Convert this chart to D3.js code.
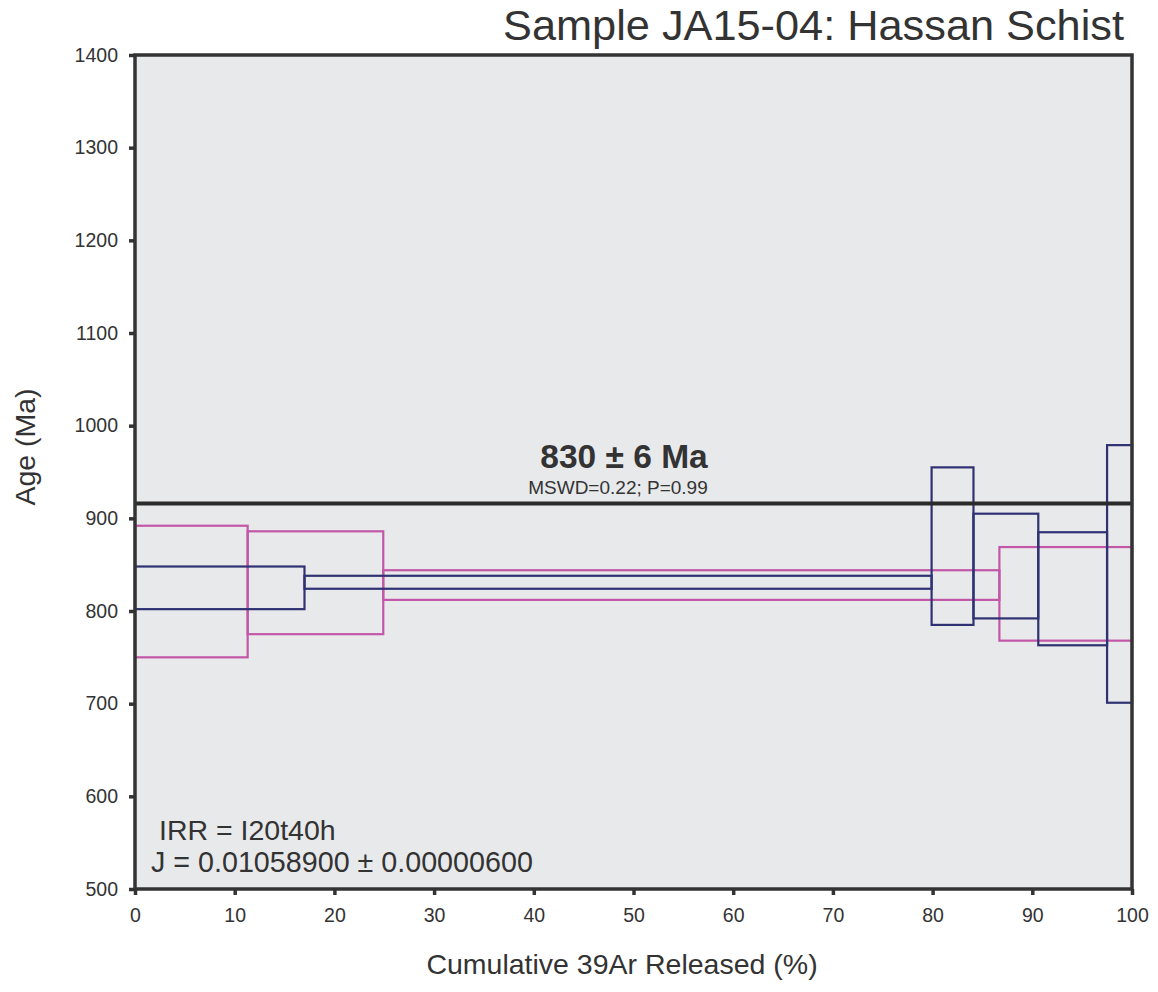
<!DOCTYPE html>
<html>
<head>
<meta charset="utf-8">
<script src="https://cdn.jsdelivr.net/npm/d3@7"></script>
<style>
  body { margin: 0; background: #fff; }
  text { font-family: "Liberation Sans", Arial, Helvetica, sans-serif; fill: #333; }
</style>
</head>
<body>
<svg id="chart" width="1158" height="992"></svg>
<script>
// step heating data (cumulative % boundaries, age +/- envelope in Ma)
const blueCum = [0, 17.0, 79.9, 84.1, 90.6, 97.5, 100];
const blueHigh = [848, 838, 955, 905, 885, 979];
const blueLow = [802, 824, 785, 792, 763, 701];

const pinkCum = [0, 11.3, 24.9, 86.7, 100];
const pinkHigh = [892, 886, 844, 869];
const pinkLow = [750, 775, 812, 768];

const plateauLine = 916;
const xTicks = [0, 10, 20, 30, 40, 50, 60, 70, 80, 90, 100];
const yTicks = [500, 600, 700, 800, 900, 1000, 1100, 1200, 1300, 1400];

const title = "Sample JA15-04: Hassan Schist";
const plateauText = "830 ± 6 Ma";
const mswdText = "MSWD=0.22; P=0.99";
const irrText = "IRR = I20t40h";
const jText = "J = 0.01058900 ± 0.00000600";

const svg = d3.select("#chart");
const plot = {left: 135, right: 1132, top: 55, bottom: 889};

const x = d3.scaleLinear().domain([0, 100]).range([plot.left, plot.right]);
const y = d3.scaleLinear().domain([500, 1400]).range([plot.bottom, plot.top]);

//plot background
svg.append("rect")
    .attr("x", plot.left).attr("y", plot.top)
    .attr("width", plot.right - plot.left).attr("height", plot.bottom - plot.top)
    .attr("fill", "#e8e9eb");

//turn the arrays into boxes
function steps(cum, hi, lo){
    return hi.map((h, i) => ({x0: cum[i], x1: cum[i+1], hi: h, lo: lo[i]}));
}

function drawSteps(data, color){
    svg.append("g")
        .selectAll("rect")
        .data(data)
        .join("rect")
            .attr("x", d => x(d.x0))
            .attr("y", d => y(d.hi))
            .attr("width", d => x(d.x1) - x(d.x0))
            .attr("height", d => y(d.lo) - y(d.hi))
            .attr("fill", "none")
            .attr("stroke", color)
            .attr("stroke-width", 2.2);
}

drawSteps(steps(pinkCum, pinkHigh, pinkLow), "#c257a8");
drawSteps(steps(blueCum, blueHigh, blueLow), "#2f3272");

//plateau line
svg.append("line")
    .attr("x1", x(0)).attr("x2", x(100))
    .attr("y1", y(plateauLine)).attr("y2", y(plateauLine))
    .attr("stroke", "#2b2b2b")
    .attr("stroke-width", 4);

//axes
const yAxis = svg.append("g")
    .attr("transform", `translate(${plot.left},0)`)
    .call(d3.axisLeft(y).tickValues(yTicks).tickSize(6).tickPadding(11).tickFormat(d3.format("d")));
const xAxis = svg.append("g")
    .attr("transform", `translate(0,${plot.bottom})`)
    .call(d3.axisBottom(x).tickValues(xTicks).tickSize(6).tickPadding(13).tickFormat(d3.format("d")));

[yAxis, xAxis].forEach(a => {
    a.select(".domain").remove();
    a.selectAll("line").attr("stroke", "#333").attr("stroke-width", 3.5);
    a.selectAll("text").style("font-size", "19.5px").attr("fill", "#333");
});

//frame
svg.append("rect")
    .attr("x", plot.left).attr("y", plot.top)
    .attr("width", plot.right - plot.left).attr("height", plot.bottom - plot.top)
    .attr("fill", "none")
    .attr("stroke", "#333")
    .attr("stroke-width", 3.5);

//texts
svg.append("text")
    .attr("x", 1124).attr("y", 40)
    .attr("text-anchor", "end")
    .style("font-size", "43.3px")
    .text(title);

svg.append("text")
    .attr("x", 624).attr("y", 468)
    .attr("text-anchor", "middle")
    .style("font-size", "33.5px")
    .style("font-weight", "bold")
    .text(plateauText);

svg.append("text")
    .attr("x", 618).attr("y", 494)
    .attr("text-anchor", "middle")
    .style("font-size", "19px")
    .text(mswdText);

svg.append("text")
    .attr("x", 159).attr("y", 840)
    .style("font-size", "28.5px")
    .text(irrText);

svg.append("text")
    .attr("x", 151).attr("y", 872)
    .style("font-size", "28.7px")
    .text(jText);

svg.append("text")
    .attr("transform", "translate(35,447) rotate(-90)")
    .attr("text-anchor", "middle")
    .style("font-size", "28.5px")
    .text("Age (Ma)");

svg.append("text")
    .attr("x", 622).attr("y", 974)
    .attr("text-anchor", "middle")
    .style("font-size", "28.5px")
    .text("Cumulative 39Ar Released (%)");
</script>
</body>
</html>
